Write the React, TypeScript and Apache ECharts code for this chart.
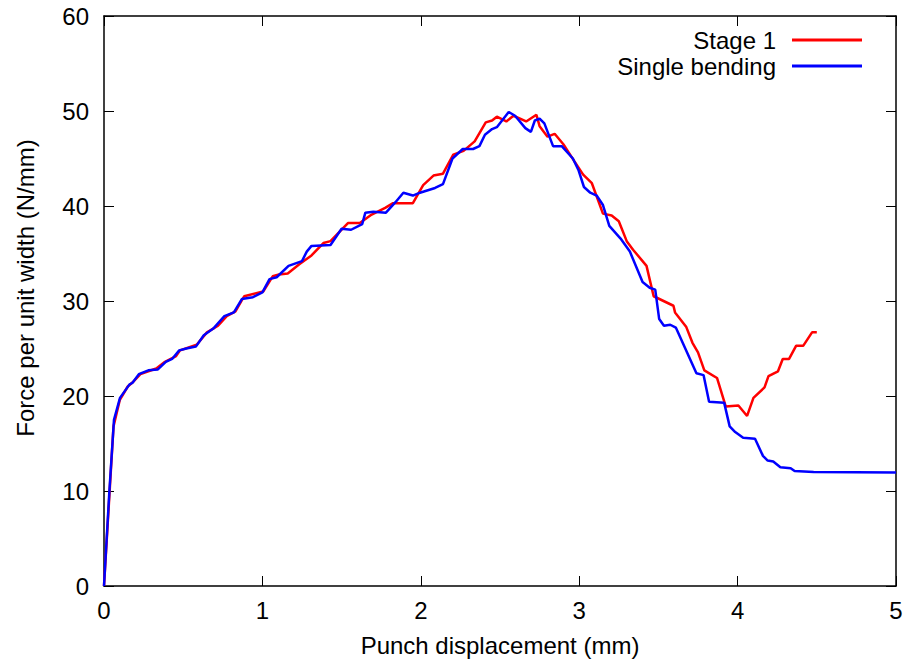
import React, { useEffect, useRef } from "react";
import * as echarts from "echarts";

const seriesNames = ["Stage 1", "Single bending"];

const stage1X = [0, 0.06, 0.1, 0.15, 0.185, 0.23, 0.28, 0.33, 0.385, 0.455, 0.48, 0.585, 0.65, 0.72, 0.775, 0.83, 0.885, 1.005, 1.065, 1.105, 1.16, 1.235, 1.31, 1.385, 1.43, 1.54, 1.615, 1.69, 1.775, 1.825, 1.95, 2.015, 2.08, 2.14, 2.205, 2.27, 2.34, 2.41, 2.45, 2.48, 2.54, 2.585, 2.665, 2.73, 2.75, 2.8, 2.845, 2.9, 2.97, 3.025, 3.08, 3.15, 3.205, 3.25, 3.3, 3.34, 3.425, 3.47, 3.595, 3.605, 3.675, 3.715, 3.75, 3.79, 3.87, 3.925, 4.005, 4.06, 4.1, 4.17, 4.195, 4.255, 4.285, 4.325, 4.37, 4.415, 4.47, 4.5];
const stage1Y = [0, 16.8, 19.6, 21.0, 21.5, 22.3, 22.6, 22.9, 23.6, 24.2, 24.8, 25.4, 26.7, 27.4, 28.4, 28.9, 30.5, 31.0, 32.6, 32.8, 32.9, 33.9, 34.8, 36.1, 36.3, 38.2, 38.2, 39.1, 39.8, 40.3, 40.3, 42.2, 43.2, 43.4, 45.4, 45.8, 46.8, 48.8, 49.0, 49.4, 48.9, 49.5, 48.9, 49.6, 48.4, 47.3, 47.6, 46.5, 44.7, 43.3, 42.4, 39.2, 39.0, 38.4, 36.3, 35.4, 33.7, 30.5, 29.5, 28.8, 27.3, 25.6, 24.6, 22.7, 21.9, 18.9, 19.0, 17.9, 19.8, 20.9, 22.1, 22.6, 23.9, 23.9, 25.3, 25.3, 26.7, 26.7];

const singleX = [0, 0.034, 0.063, 0.101, 0.16, 0.18, 0.22, 0.28, 0.34, 0.39, 0.43, 0.475, 0.52, 0.58, 0.63, 0.69, 0.76, 0.82, 0.87, 0.94, 1.0, 1.045, 1.09, 1.165, 1.25, 1.28, 1.31, 1.43, 1.5, 1.56, 1.63, 1.65, 1.7, 1.78, 1.84, 1.89, 1.95, 1.995, 2.09, 2.14, 2.2, 2.265, 2.33, 2.37, 2.405, 2.45, 2.48, 2.555, 2.595, 2.66, 2.695, 2.72, 2.75, 2.78, 2.835, 2.89, 2.96, 2.995, 3.03, 3.07, 3.11, 3.15, 3.19, 3.26, 3.32, 3.4, 3.445, 3.48, 3.505, 3.535, 3.575, 3.61, 3.74, 3.785, 3.82, 3.915, 3.95, 3.985, 4.035, 4.11, 4.16, 4.19, 4.225, 4.27, 4.335, 4.36, 4.48, 5.0];
const singleY = [0, 10.0, 17.5, 19.8, 21.2, 21.4, 22.3, 22.7, 22.8, 23.6, 23.9, 24.8, 25.0, 25.2, 26.4, 27.1, 28.4, 28.8, 30.2, 30.4, 30.9, 32.3, 32.5, 33.7, 34.2, 35.2, 35.8, 35.9, 37.6, 37.5, 38.1, 39.3, 39.4, 39.3, 40.4, 41.4, 41.1, 41.4, 41.9, 42.3, 45.0, 46.0, 46.0, 46.3, 47.5, 48.1, 48.3, 49.9, 49.5, 48.2, 47.8, 49.0, 49.2, 48.7, 46.3, 46.3, 45.0, 43.8, 42.0, 41.4, 41.1, 40.1, 37.9, 36.6, 35.2, 32.0, 31.4, 31.2, 28.1, 27.4, 27.5, 27.2, 22.4, 22.2, 19.4, 19.3, 16.8, 16.2, 15.6, 15.5, 13.7, 13.2, 13.1, 12.5, 12.4, 12.1, 12.0, 11.95];

const xTicks = { min: 0, max: 5, interval: 1 };
const yTicks = { min: 0, max: 60, interval: 10 };

const FONT = "Liberation Sans";
const FS = 24;

export default function App() {
  const ref = useRef<HTMLDivElement>(null);
  useEffect(() => {
    if (!ref.current) return;
    const chart = echarts.init(ref.current, null, { renderer: "svg" });
    const pair = (xs: number[], ys: number[]) => xs.map((x, i) => [x, ys[i]]);
    const axisLine = { show: true, onZero: false, lineStyle: { color: "#000", width: 1.5 } };
    const tick = { show: true, inside: true, length: 10, lineStyle: { color: "#000", width: 1 } };
    chart.setOption({
      animation: false,
      backgroundColor: "#fff",
      textStyle: { fontFamily: FONT },
      grid: { left: 104, right: 11, top: 16, bottom: 75, containLabel: false },
      legend: {
        orient: "vertical",
        right: 40,
        top: 23,
        align: "right",
        itemWidth: 70,
        itemHeight: 3,
        itemGap: 2,
        icon: "rect",
        textStyle: { fontFamily: FONT, fontSize: FS, lineHeight: 22, color: "#000", padding: [0, 11, 0, 0] },
        data: seriesNames,
      },
      xAxis: [
        {
          type: "value",
          ...xTicks,
          name: "Punch displacement (mm)",
          nameLocation: "middle",
          nameGap: 47,
          nameTextStyle: { fontFamily: FONT, fontSize: FS, color: "#000" },
          axisLine,
          axisTick: tick,
          splitLine: { show: false },
          axisLabel: { color: "#000", fontSize: FS, fontFamily: FONT, margin: 12 },
        },
        {
          type: "value",
          position: "top",
          ...xTicks,
          axisLine,
          axisTick: tick,
          splitLine: { show: false },
          axisLabel: { show: false },
        },
      ],
      yAxis: [
        {
          type: "value",
          ...yTicks,
          name: "Force per unit width (N/mm)",
          nameLocation: "middle",
          nameGap: 67,
          nameTextStyle: { fontFamily: FONT, fontSize: FS, color: "#000", padding: [0, 0, 0, 26] },
          axisLine,
          axisTick: tick,
          splitLine: { show: false },
          axisLabel: { color: "#000", fontSize: FS, fontFamily: FONT, margin: 15 },
        },
        {
          type: "value",
          position: "right",
          ...yTicks,
          axisLine,
          axisTick: tick,
          splitLine: { show: false },
          axisLabel: { show: false },
        },
      ],
      series: [
        {
          name: seriesNames[0],
          type: "line",
          data: pair(stage1X, stage1Y),
          showSymbol: false,
          symbol: "none",
          color: "#ff0000",
          lineStyle: { color: "#ff0000", width: 2.5 },
          z: 2,
        },
        {
          name: seriesNames[1],
          type: "line",
          data: pair(singleX, singleY),
          showSymbol: false,
          symbol: "none",
          color: "#0000ff",
          lineStyle: { color: "#0000ff", width: 2.5 },
          z: 3,
        },
      ],
    });
    return () => chart.dispose();
  }, []);
  return <div ref={ref} style={{ width: 907, height: 662, position: "absolute", left: 0, top: 0 }} />;
}
